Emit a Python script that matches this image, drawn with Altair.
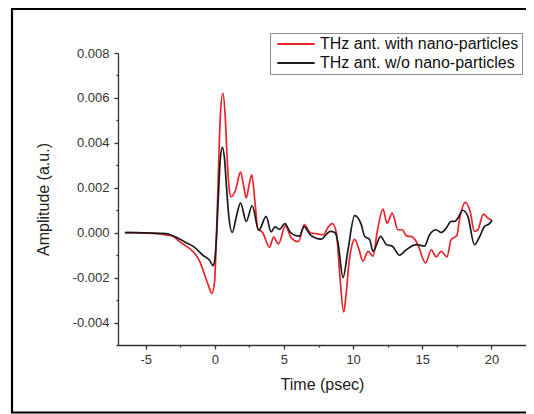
import altair as alt
import pandas as pd

# ---- data ----
red_label = "THz ant. with nano-particles"
black_label = "THz ant. w/o nano-particles"

red_t = [-6.5, -6.0, -5.0, -4.5, -4.0, -3.5, -3.03, -2.55, -2.07, -1.59, -1.1, -0.74,
         -0.43, -0.22, -0.02, 0.1, 0.25, 0.4, 0.58, 0.75, 0.9, 1.05, 1.18, 1.5, 1.86,
         2.08, 2.27, 2.47, 2.67, 2.9, 3.1, 3.47, 3.95, 4.25, 4.6, 5.1, 5.55, 6.05, 6.47,
         6.9, 7.4, 7.85, 8.2, 8.5, 8.79, 9.05, 9.32, 9.5, 9.7, 9.9, 10.11, 10.4, 10.71,
         11.08, 11.44, 11.73, 12.16, 12.45, 12.83, 13.24, 13.55, 13.84, 14.32, 14.68,
         15.24, 15.65, 16.0, 16.37, 16.78, 17.09, 17.5, 17.69, 18.12, 18.46, 18.77,
         19.02, 19.42, 19.74, 20.05]
red_a = [0.0, 0.0, -0.00002, -0.00003, -0.00005, -0.0001, -0.00016, -0.0004, -0.0006,
         -0.00083, -0.00127, -0.00187, -0.0024, -0.0027, -0.0022, -0.0005, 0.0025,
         0.0052, 0.0062, 0.0052, 0.0032, 0.0019, 0.0016, 0.0019, 0.0027, 0.0021,
         0.00155, 0.0021, 0.00258, 0.0014, 0.0002, 0.0, -0.00065, -0.0002, -0.0005,
         0.0003, -0.00025, -0.0004, 0.00036, 0.0, -0.00005, -0.0001, 0.00025, 0.0004,
         0.0, -0.002, -0.00354, -0.0027, -0.00135, -0.0006, -0.0003, -0.0007, -0.00127,
         -0.00083, -0.00105, 0.0, 0.00105, 0.00043, 0.00087, 0.00013, 0.00013,
         -0.00013, -0.0002, -0.00053, -0.00135, -0.00076, -0.00108, -0.00083, -0.00108,
         -0.0003, -0.00013, 0.00058, 0.00135, 0.00095, 0.00006, 0.00013, 0.00083,
         0.00065, 0.00055]

black_t = [-6.5, -6.0, -5.0, -4.5, -4.0, -3.51, -3.0, -2.55, -2.07, -1.59, -1.2, -0.87,
           -0.38, -0.12, 0.0, 0.1, 0.25, 0.4, 0.55, 0.7, 0.85, 1.0, 1.26, 1.55, 1.86,
           2.27, 2.7, 3.18, 3.71, 4.07, 4.35, 4.68, 5.07, 5.45, 6.12, 6.46, 6.9, 7.68,
           8.35, 8.7, 8.91, 9.27, 9.63, 10.11, 10.59, 10.83, 11.19, 11.44, 11.99, 12.4,
           12.83, 13.36, 13.84, 14.56, 15.16, 15.52, 16.0, 16.37, 16.73, 17.09, 17.33,
           17.57, 17.93, 18.3, 18.77, 19.13, 19.5, 19.86, 20.05]
black_a = [0.0, 0.0, -0.00001, -0.00002, -0.00003, -0.00004, -0.00015, -0.00028,
           -0.00045, -0.0006, -0.0008, -0.001, -0.00123, -0.00147, -0.0012, -0.0004,
           0.0015, 0.0033, 0.0038, 0.0033, 0.002, 0.0008, 0.00001, 0.0007, 0.00132,
           0.0005, 0.0012, 0.0001, 0.00073, 0.00003, 0.00026, 0.00015, 0.0004, 0.00003,
           -0.00015, 0.00027, -0.0001, -0.00029, 0.00006, 0.0, -0.00045, -0.002,
           -0.00076, 0.00076, 0.00036, -0.00016, -0.0003, -0.00083, -0.00016, -0.00053,
           -0.0006, -0.001, -0.00076, -0.00053, -0.0006, -0.0001, 0.00013, 0.00001,
           0.0002, 0.0005, 0.0005, 0.00065, 0.001, 0.00073, -0.00053, -0.0002, 0.00028,
           0.0004, 0.00055]

x_ticks = [-5, -2.5, 0, 2.5, 5, 7.5, 10, 12.5, 15, 17.5, 20, 22.5]
y_ticks = [-0.005, -0.004, -0.003, -0.002, -0.001, 0.0, 0.001, 0.002, 0.003,
           0.004, 0.005, 0.006, 0.007, 0.008]

df = pd.concat([
    pd.DataFrame({"t": red_t, "a": red_a, "series": red_label, "o": range(len(red_t))}),
    pd.DataFrame({"t": black_t, "a": black_a, "series": black_label, "o": range(len(black_t))}),
], ignore_index=True)

FONT = "Liberation Sans"

lines = alt.Chart(df).mark_line(strokeWidth=1.7, interpolate="monotone").encode(
    x=alt.X("t:Q", title="Time (psec)",
            scale=alt.Scale(domain=[-7, 22.5], nice=False, zero=False),
            axis=alt.Axis(values=x_ticks, grid=False,
                          labelExpr="datum.value % 5 === 0 ? replace(datum.label, '\u2212', '-') : ''",
                          tickSize=alt.condition("datum.value % 5 === 0", alt.value(4), alt.value(2)),
                          labelPadding=4, titlePadding=10)),
    y=alt.Y("a:Q", title="Amplitude (a.u.)",
            scale=alt.Scale(domain=[-0.005, 0.008], nice=False, zero=False),
            axis=alt.Axis(values=y_ticks, grid=False, format=".3f",
                          labelExpr="round(datum.value * 1000) % 2 === 0 ? replace(datum.label, '\u2212', '-') : ''",
                          tickSize=alt.condition("round(datum.value * 1000) % 2 === 0", alt.value(4), alt.value(2)),
                          labelPadding=5, titlePadding=21)),
    color=alt.Color("series:N",
                    scale=alt.Scale(domain=[red_label, black_label], range=["#e8242b", "#1c1c1c"]),
                    legend=alt.Legend(title=None, orient="none", legendX=152, legendY=-20,
                                      direction="vertical", symbolType="M-4,0H4",
                                      symbolSize=87, symbolStrokeWidth=2,
                                      labelFontSize=16, labelFont=FONT, labelColor="#111",
                                      labelLimit=400, labelOffset=16, symbolOffset=15,
                                      padding=3, rowPadding=3, strokeColor="#8a8a8a",
                                      fillColor="white")),
    order="o:Q",
)

one = pd.DataFrame({"k": [0]})
frame_left = alt.Chart(one).mark_rule(stroke="black", strokeWidth=2.2).encode(
    x=alt.value(-106), y=alt.value(-44), y2=alt.value(360))
frame_top = alt.Chart(one).mark_rule(stroke="black", strokeWidth=2.2).encode(
    x=alt.value(-107), x2=alt.value(450), y=alt.value(-44))
frame_bottom = alt.Chart(one).mark_rule(stroke="black", strokeWidth=2.2).encode(
    x=alt.value(-107), x2=alt.value(450), y=alt.value(359.5))

chart = alt.layer(frame_left, frame_top, frame_bottom, lines).properties(
    width=408, height=292,
    padding={"left": 110, "top": 45, "right": 0, "bottom": 69},
    autosize=alt.AutoSizeParams(type="none"),
    background="white",
).configure_view(stroke=None).configure_axis(
    domainColor="#333", domainWidth=1.3, tickColor="#333", tickWidth=1.3,
    labelFont=FONT, labelFontSize=13, labelColor="#333",
    titleFont=FONT, titleFontSize=16, titleFontWeight="normal", titleColor="#222",
)

chart.save("out.html", embed_options={"renderer": "svg", "actions": False})
